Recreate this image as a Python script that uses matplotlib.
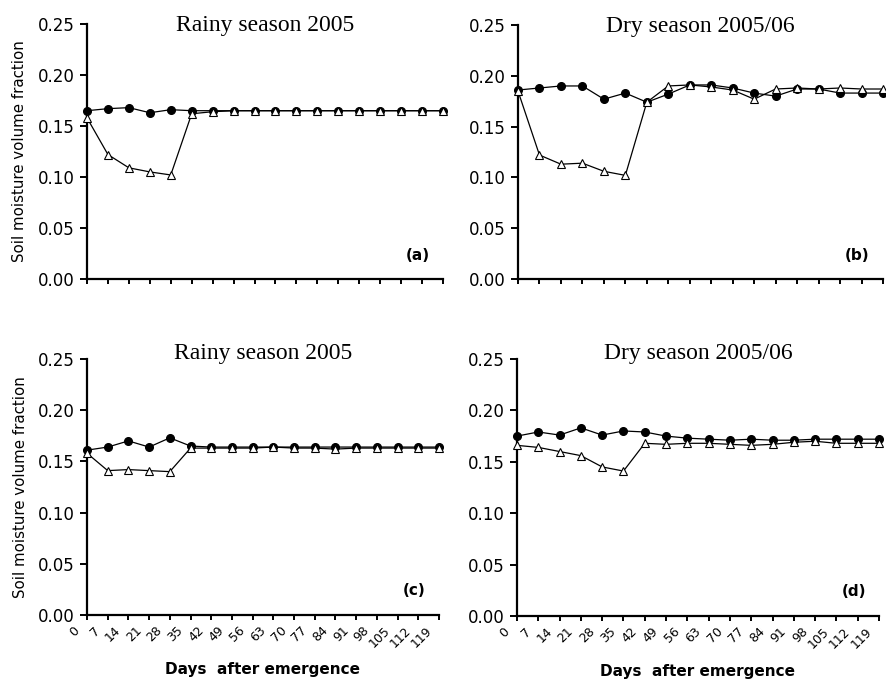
import matplotlib
matplotlib.use("Agg")
import matplotlib.pyplot as plt
import matplotlib.transforms as mtransforms

# Days after emergence (x categories)
days = list(range(0, 120, 7))

# Panel titles and tags
titles = ["Rainy season 2005", "Dry season 2005/06", "Rainy season 2005", "Dry season 2005/06"]
tags = ["(a)", "(b)", "(c)", "(d)"]

# Soil moisture, filled circles
a_filled = [0.165, 0.167, 0.168, 0.163, 0.166, 0.165, 0.165, 0.165, 0.165,
            0.165, 0.165, 0.165, 0.165, 0.165, 0.165, 0.165, 0.165, 0.165]
b_filled = [0.186, 0.188, 0.190, 0.190, 0.177, 0.183, 0.174, 0.182, 0.191,
            0.191, 0.188, 0.183, 0.180, 0.187, 0.187, 0.183, 0.183, 0.183]
c_filled = [0.161, 0.164, 0.170, 0.164, 0.173, 0.165, 0.164, 0.164, 0.164,
            0.164, 0.164, 0.164, 0.164, 0.164, 0.164, 0.164, 0.164, 0.164]
d_filled = [0.175, 0.179, 0.176, 0.183, 0.176, 0.180, 0.179, 0.175, 0.173,
            0.172, 0.171, 0.172, 0.171, 0.171, 0.172, 0.172, 0.172, 0.172]

# Soil moisture, open triangles
a_open = [0.158, 0.122, 0.109, 0.105, 0.102, 0.162, 0.164, 0.165, 0.165,
          0.165, 0.165, 0.165, 0.165, 0.165, 0.165, 0.165, 0.165, 0.165]
b_open = [0.185, 0.122, 0.113, 0.114, 0.106, 0.102, 0.174, 0.190, 0.191,
          0.189, 0.186, 0.177, 0.187, 0.188, 0.187, 0.188, 0.187, 0.187]
c_open = [0.158, 0.141, 0.142, 0.141, 0.140, 0.163, 0.163, 0.163, 0.163,
          0.164, 0.163, 0.163, 0.162, 0.163, 0.163, 0.163, 0.163, 0.163]
d_open = [0.166, 0.164, 0.160, 0.156, 0.145, 0.141, 0.168, 0.167, 0.168,
          0.168, 0.167, 0.166, 0.167, 0.169, 0.170, 0.168, 0.168, 0.168]

yticks = [0.00, 0.05, 0.10, 0.15, 0.20, 0.25]

fig = plt.figure(figsize=(8.87, 6.79), dpi=100)
W, H = 887, 679

# axes boxes in pixels: left, top, right, bottom
boxes = [(87, 24, 443, 279), (518, 25, 883, 279),
         (87, 359, 439, 615), (517, 359, 879, 616)]
filled = [a_filled, b_filled, c_filled, d_filled]
opened = [a_open, b_open, c_open, d_open]

for i, (l, t, r, b) in enumerate(boxes):
    ax = fig.add_axes([l / W, (H - b) / H, (r - l) / W, (b - t) / H])
    ax.plot(days, filled[i], color="black", lw=0.9, marker="o", ms=5.5,
            mfc="black", mec="black", zorder=3, clip_on=False)
    ax.plot(days, opened[i], color="black", lw=0.9, marker="^", ms=6,
            mfc="white", mec="black", mew=0.8, zorder=4, clip_on=False)

    ax.set_xlim(0, 119)
    ax.set_ylim(0, 0.25)
    ax.set_yticks(yticks)
    ax.set_yticklabels([f"{v:.2f}" for v in yticks])
    ax.set_xticks(days)

    for s in ["top", "right"]:
        ax.spines[s].set_visible(False)
    for s in ["left", "bottom"]:
        ax.spines[s].set_linewidth(1.6)
    ax.tick_params(axis="y", direction="out", length=5, width=1.4,
                   labelsize=12, pad=4)
    ax.tick_params(axis="x", direction="out", length=3.5, width=1.4, pad=3)

    if i >= 2:
        ax.set_xticklabels([str(d) for d in days], rotation=45, ha="right",
                           fontsize=9)
        shift = mtransforms.ScaledTranslation(-5 / 100, 0, fig.dpi_scale_trans)
        for lab in ax.get_xticklabels():
            lab.set_transform(lab.get_transform() + shift)
        ax.set_xlabel("Days  after emergence", fontsize=11, fontweight="bold")
        ax.xaxis.set_label_coords(0.5, -0.185)
    else:
        ax.set_xticklabels([])

    if i % 2 == 0:
        ax.set_ylabel("Soil moisture volume fraction", fontsize=10.8)
        ax.yaxis.set_label_coords(-0.168, 0.5)

    ty = 0.972 if i < 2 else 1.0
    ax.text(0.5, ty, titles[i], transform=ax.transAxes, ha="center",
            va="baseline", fontsize=17, family="Liberation Serif")
    ax.text(0.93, 0.094, tags[i], transform=ax.transAxes, ha="center",
            va="center", fontsize=11, fontweight="bold")

fig.savefig("out.png", dpi=100)
